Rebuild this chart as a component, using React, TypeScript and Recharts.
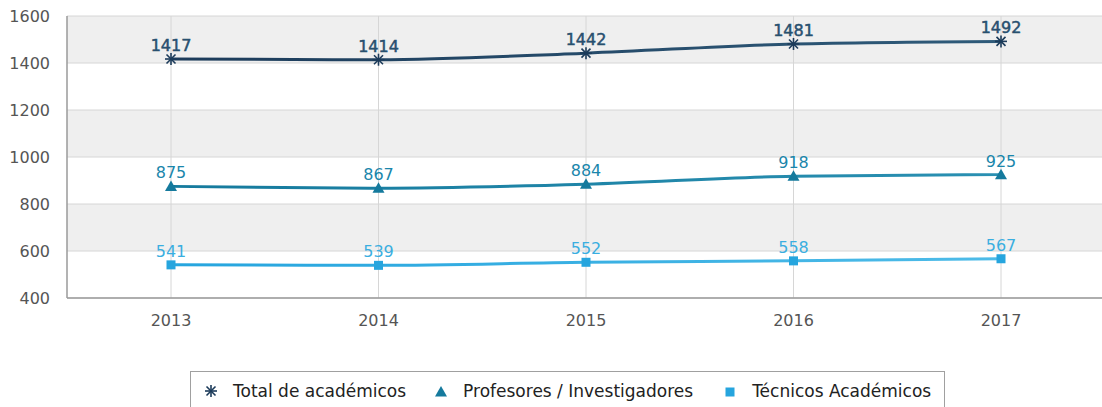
import React from 'react';
import { LineChart, Line, XAxis, YAxis, CartesianGrid, LabelList } from 'recharts';

const years = ['2013', '2014', '2015', '2016', '2017'];
const totalAcademicos = [1417, 1414, 1442, 1481, 1492];
const profesores = [875, 867, 884, 918, 925];
const tecnicos = [541, 539, 552, 558, 567];
const yTicks = [400, 600, 800, 1000, 1200, 1400, 1600];

const seriesNames = {
  total: 'Total de académicos',
  prof: 'Profesores / Investigadores',
  tec: 'Técnicos Académicos'
};

const colors = {
  total: '#1c3b5a',
  totalEnd: '#2f5b7a',
  totalLabel: '#28506f',
  prof: '#157a9d',
  profEnd: '#2a90b2',
  profLabel: '#1a86ab',
  tec: '#26a5de',
  tecEnd: '#4dbbe8',
  tecLabel: '#3aaee0'
};

const data = years.map((year, i) => ({
  year,
  total: totalAcademicos[i],
  prof: profesores[i],
  tec: tecnicos[i]
}));

const FONT = '"DejaVu Sans", sans-serif';

const StarDot = (props: any) => {
  const { cx, cy } = props;
  if (cx == null || cy == null) return null;
  const r = 6;
  const d = r * 0.75;
  return (
    <g stroke={colors.total} strokeWidth={1.6}>
      <line x1={cx} y1={cy - r} x2={cx} y2={cy + r} />
      <line x1={cx - r} y1={cy} x2={cx + r} y2={cy} />
      <line x1={cx - d} y1={cy - d} x2={cx + d} y2={cy + d} />
      <line x1={cx - d} y1={cy + d} x2={cx + d} y2={cy - d} />
    </g>
  );
};

const TriangleDot = (props: any) => {
  const { cx, cy } = props;
  if (cx == null || cy == null) return null;
  return (
    <path
      d={`M${cx},${cy - 6} L${cx + 6},${cy + 4.5} L${cx - 6},${cy + 4.5} Z`}
      fill={colors.prof}
    />
  );
};

const SquareDot = (props: any) => {
  const { cx, cy } = props;
  if (cx == null || cy == null) return null;
  return <rect x={cx - 4.5} y={cy - 4.5} width={9} height={9} fill={colors.tec} />;
};

const LegendItem = ({ icon, label, gap }: { icon: React.ReactNode; label: string; gap: number }) => (
  <div style={{ display: 'flex', alignItems: 'center', marginLeft: gap }}>
    <svg width={20} height={18} style={{ marginRight: 12 }}>
      {icon}
    </svg>
    <span>{label}</span>
  </div>
);

export default function App() {
  return (
    <div style={{ position: 'fixed', left: 0, top: 0, width: 1102, height: 407, background: '#fff', overflow: 'hidden' }}>
      <LineChart
        width={1102}
        height={345}
        data={data}
        margin={{ top: 16, right: 0, left: 0, bottom: 0 }}
        style={{ fontFamily: FONT }}
      >
        <defs>
          <linearGradient id="gTotal" x1="0" y1="0" x2="1" y2="0">
            <stop offset="0%" stopColor={colors.total} />
            <stop offset="100%" stopColor={colors.totalEnd} />
          </linearGradient>
          <linearGradient id="gProf" x1="0" y1="0" x2="1" y2="0">
            <stop offset="0%" stopColor={colors.prof} />
            <stop offset="100%" stopColor={colors.profEnd} />
          </linearGradient>
          <linearGradient id="gTec" x1="0" y1="0" x2="1" y2="0">
            <stop offset="0%" stopColor={colors.tec} />
            <stop offset="100%" stopColor={colors.tecEnd} />
          </linearGradient>
        </defs>
        <CartesianGrid
          stroke="#d6d6d6"
          horizontalFill={['#efefef', '#ffffff']}
          fillOpacity={1}
          syncWithTicks
        />
        <XAxis
          dataKey="year"
          padding={{ left: 104, right: 101 }}
          height={47}
          tickLine={false}
          tickSize={0}
          tickMargin={17}
          axisLine={{ stroke: '#9a9a9a', strokeWidth: 1.5 }}
          tick={{ fill: '#555', fontSize: 16, fontFamily: FONT }}
        />
        <YAxis
          width={67}
          domain={[400, 1600]}
          ticks={yTicks}
          interval={0}
          tickLine={false}
          tickSize={0}
          tickMargin={17}
          axisLine={{ stroke: '#9a9a9a', strokeWidth: 1.5 }}
          tick={{ fill: '#555', fontSize: 16, fontFamily: FONT }}
        />
        <Line
          type="monotone"
          dataKey="tec"
          name={seriesNames.tec}
          stroke="url(#gTec)"
          strokeWidth={3}
          dot={<SquareDot />}
          activeDot={false}
          isAnimationActive={false}
        >
          <LabelList dataKey="tec" position="top" offset={8} fill={colors.tecLabel} fontSize={16} fontFamily={FONT} />
        </Line>
        <Line
          type="monotone"
          dataKey="prof"
          name={seriesNames.prof}
          stroke="url(#gProf)"
          strokeWidth={3}
          dot={<TriangleDot />}
          activeDot={false}
          isAnimationActive={false}
        >
          <LabelList dataKey="prof" position="top" offset={8} fill={colors.profLabel} fontSize={16} fontFamily={FONT} />
        </Line>
        <Line
          type="monotone"
          dataKey="total"
          name={seriesNames.total}
          stroke="url(#gTotal)"
          strokeWidth={3}
          dot={<StarDot />}
          activeDot={false}
          isAnimationActive={false}
        >
          <LabelList
            dataKey="total"
            position="top"
            offset={8}
            fill={colors.totalLabel}
            stroke={colors.totalLabel}
            strokeWidth={0.5}
            fontSize={16}
            fontFamily={FONT}
          />
        </Line>
      </LineChart>
      <div
        style={{
          position: 'absolute',
          left: 190,
          top: 371,
          width: 755,
          height: 46,
          boxSizing: 'border-box',
          border: '1px solid #a0a0a0',
          display: 'flex',
          alignItems: 'flex-start',
          paddingTop: 9,
          fontFamily: FONT,
          fontSize: 17,
          color: '#222'
        }}
      >
        <LegendItem gap={10} icon={<StarDot cx={10} cy={9} />} label={seriesNames.total} />
        <LegendItem gap={25} icon={<TriangleDot cx={10} cy={10} />} label={seriesNames.prof} />
        <LegendItem gap={27} icon={<SquareDot cx={10} cy={10} />} label={seriesNames.tec} />
      </div>
    </div>
  );
}
